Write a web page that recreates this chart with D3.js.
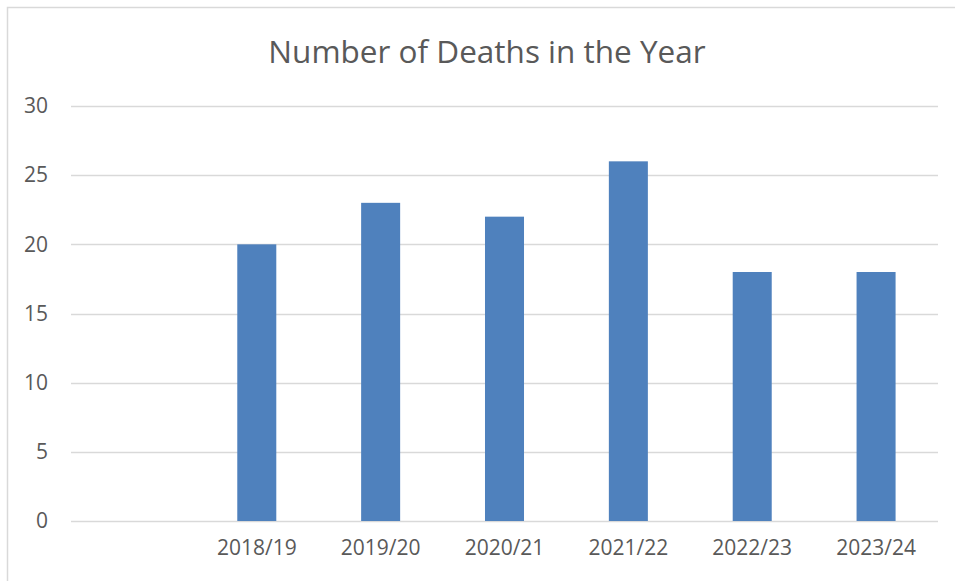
<!DOCTYPE html>
<html>
<head>
<meta charset="utf-8">
<script src="https://cdn.jsdelivr.net/npm/d3@7"></script>
<style>
  html, body { margin: 0; padding: 0; background: #fff; }
  svg { display: block; }
  text { font-family: "Open Sans", "Noto Sans", sans-serif; fill: #595959; }
</style>
</head>
<body>
<svg id="chart" width="955" height="581"></svg>
<script>
// Deaths recorded per year; the first category is left blank on purpose.
const categories = ["", "2018/19", "2019/20", "2020/21", "2021/22", "2022/23", "2023/24"];
const deaths = [null, 20, 23, 22, 26, 18, 18];
const yTicks = [0, 5, 10, 15, 20, 25, 30];
const title = "Number of Deaths in the Year";

const svg = d3.select("#chart");
const W = 955, H = 581;
const margin = { left: 71, right: 17, top: 106, bottom: 60 };
const plotW = W - margin.left - margin.right;
const plotH = H - margin.top - margin.bottom;

// Chart frame
svg.append("rect")
  .attr("x", 7.5).attr("y", 7.5)
  .attr("width", W + 10).attr("height", H + 10)
  .attr("fill", "#fff").attr("stroke", "#d9d9d9").attr("stroke-width", 1.5);

svg.append("text")
  .attr("x", 487).attr("y", 63)
  .attr("text-anchor", "middle")
  .attr("font-size", 31.5)
  .text(title);

const x = d3.scaleBand().domain(categories.map((c, i) => i)).range([0, plotW]).paddingInner(0.685).paddingOuter(0.3425);
const y = d3.scaleLinear().domain([0, 30]).range([plotH, 0]);

const g = svg.append("g").attr("transform", `translate(${margin.left},${margin.top})`);

// Horizontal gridlines
g.append("g").selectAll("line").data(yTicks).join("line")
  .attr("x1", 0).attr("x2", plotW)
  .attr("y1", d => Math.round(y(d)) + 0.5).attr("y2", d => Math.round(y(d)) + 0.5)
  .attr("stroke", "#d9d9d9").attr("stroke-width", 1.3);

// Y-axis labels
const yAxis = g.append("g").call(d3.axisLeft(y).tickValues(yTicks).tickSize(0).tickPadding(23));
yAxis.select(".domain").remove();
yAxis.selectAll("text").attr("font-size", 21).style("font-family", '"Open Sans", sans-serif').attr("fill", "#595959");

// Bars
g.append("g").selectAll("rect")
  .data(deaths.map((v, i) => ({ i, v })).filter(d => d.v !== null))
  .join("rect")
  .attr("x", d => x(d.i))
  .attr("width", x.bandwidth())
  .attr("y", d => y(d.v))
  .attr("height", d => plotH - y(d.v))
  .attr("fill", "#4f81bd");

// Category labels
const xAxis = g.append("g").attr("transform", `translate(0,${plotH})`)
  .call(d3.axisBottom(x).tickFormat(i => categories[i]).tickSize(0).tickPadding(19));
xAxis.select(".domain").remove();
xAxis.selectAll("text").attr("font-size", 21).style("font-family", '"Open Sans", sans-serif').attr("fill", "#595959");
</script>
</body>
</html>
